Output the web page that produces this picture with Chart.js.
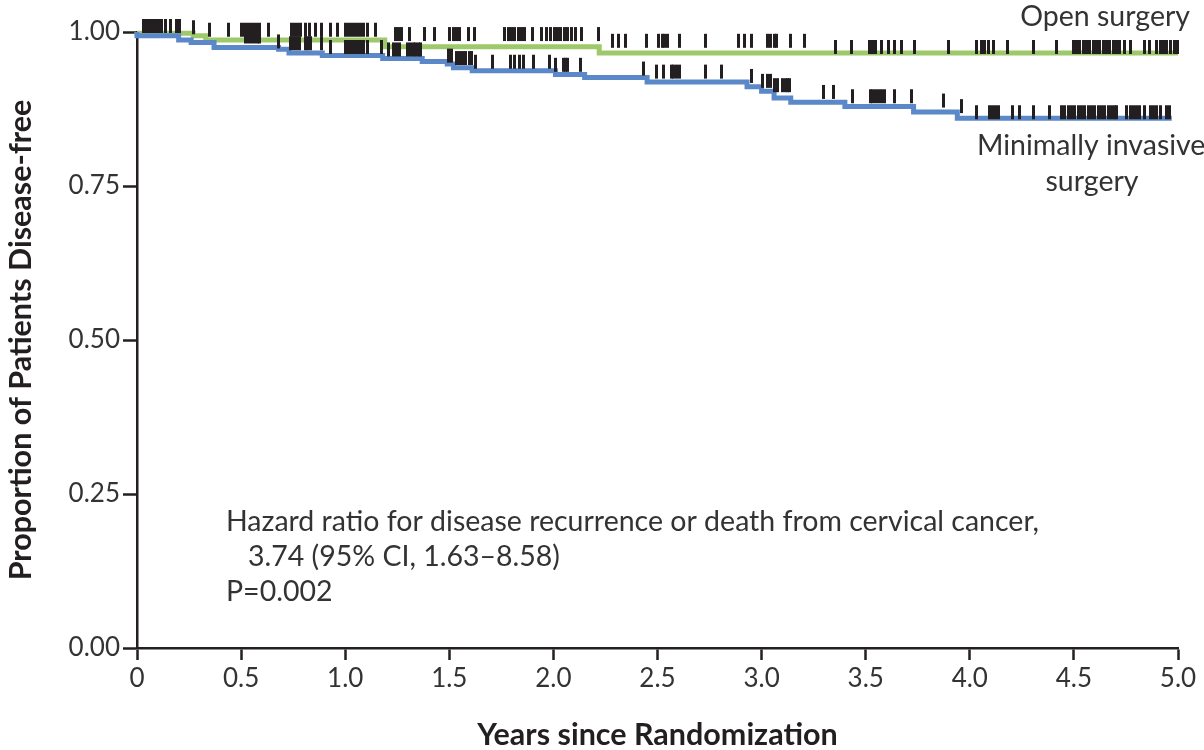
<!DOCTYPE html>
<html>
<head>
<meta charset="utf-8">
<script src="https://cdn.jsdelivr.net/npm/chart.js@4.4.1/dist/chart.umd.min.js"></script>
<style>
  html, body { margin: 0; padding: 0; background: #fff; }
  canvas { display: block; }
</style>
</head>
<body>
<canvas id="kmChart" width="1204" height="750"></canvas>
<script>
// Kaplan-Meier steps: time (years) and proportion disease-free from that time on
const openTimes = [0, 0.27, 0.33, 1.19, 2.22, 3.31, 5.0];
const openSurv  = [1.0, 0.998, 0.994, 0.987, 0.976, 0.966, 0.966];

const misTimes = [0, 0.20, 0.26, 0.37, 0.68, 0.73, 0.89, 1.18, 1.37, 1.49, 1.52, 1.61,
                  2.01, 2.15, 2.45, 2.93, 3.00, 3.06, 3.14, 3.40, 3.73, 3.94, 4.02, 4.97];
const misSurv  = [1.0, 0.994, 0.987, 0.983, 0.975, 0.972, 0.966, 0.962, 0.957, 0.952, 0.948, 0.942,
                  0.937, 0.931, 0.926, 0.919, 0.911, 0.904, 0.893, 0.886, 0.879, 0.870, 0.860, 0.860];

// censored observations (years)
const openCensor = [0.03, 0.045, 0.06, 0.075, 0.09, 0.105, 0.12, 0.135, 0.16, 0.19, 0.205, 0.27, 0.35, 0.44,
  0.50, 0.515, 0.53, 0.545, 0.56, 0.575, 0.59, 0.63, 0.74, 0.755, 0.77, 0.785, 0.81, 0.83, 0.855, 0.885,
  0.93, 0.965, 1.00, 1.015, 1.03, 1.045, 1.06, 1.075, 1.09, 1.105, 1.145, 1.24, 1.255, 1.27, 1.31, 1.383,
  1.428, 1.503, 1.519, 1.535, 1.551, 1.591, 1.623, 1.767, 1.783, 1.799, 1.815, 1.83, 1.846, 1.86, 1.90,
  1.943, 1.967, 1.988, 2.004, 2.02, 2.036, 2.052, 2.068, 2.088, 2.104, 2.136, 2.219, 2.283, 2.315, 2.347,
  2.448, 2.504, 2.523, 2.536, 2.549, 2.608, 2.731, 2.891, 2.92, 2.952, 3.029, 3.045, 3.06, 3.072, 3.141,
  3.205, 3.353, 3.433, 3.516, 3.532, 3.548, 3.577, 3.608, 3.64, 3.672, 3.736, 3.899, 4.032, 4.054, 4.073,
  4.092, 4.113, 4.183, 4.305, 4.415, 4.497, 4.513, 4.529, 4.545, 4.561, 4.577, 4.593, 4.609, 4.625, 4.641,
  4.657, 4.673, 4.689, 4.705, 4.72, 4.745, 4.774, 4.84, 4.862, 4.898, 4.914, 4.93, 4.946, 4.963, 4.985, 4.998];

const misCensor = [0.04, 0.07, 0.1, 0.52, 0.535, 0.55, 0.565, 0.58, 0.59, 0.68, 0.735, 0.75, 0.765, 0.78,
  0.807, 0.82, 0.833, 0.884, 0.927, 1.0, 1.015, 1.03, 1.045, 1.06, 1.075, 1.09, 1.105, 1.175, 1.207, 1.23,
  1.245, 1.26, 1.30, 1.313, 1.326, 1.339, 1.352, 1.364, 1.495, 1.511, 1.535, 1.55, 1.565, 1.58, 1.595,
  1.607, 1.626, 1.706, 1.795, 1.815, 1.835, 1.855, 1.903, 1.983, 2.01, 2.047, 2.058, 2.068, 2.132, 2.432,
  2.496, 2.528, 2.565, 2.578, 2.592, 2.608, 2.731, 2.805, 2.952, 3.004, 3.029, 3.045, 3.061, 3.077, 3.101,
  3.113, 3.125, 3.136, 3.297, 3.345, 3.436, 3.521, 3.533, 3.545, 3.561, 3.576, 3.592, 3.637, 3.72, 3.875,
  3.961, 4.033, 4.097, 4.11, 4.123, 4.137, 4.207, 4.239, 4.305, 4.382, 4.441, 4.457, 4.473, 4.489, 4.505,
  4.521, 4.537, 4.553, 4.569, 4.585, 4.601, 4.617, 4.633, 4.649, 4.665, 4.681, 4.697, 4.706, 4.754, 4.77,
  4.786, 4.802, 4.817, 4.841, 4.866, 4.881, 4.897, 4.914, 4.945, 4.96];

const xTicks = [0, 0.5, 1.0, 1.5, 2.0, 2.5, 3.0, 3.5, 4.0, 4.5, 5.0];
const xTickLabels = ['0', '0.5', '1.0', '1.5', '2.0', '2.5', '3.0', '3.5', '4.0', '4.5', '5.0'];
const yTicks = [0, 0.25, 0.5, 0.75, 1.0];
const yTickLabels = ['0.00', '0.25', '0.50', '0.75', '1.00'];

const INK = '#231f20';
const GREEN = '#9dc96b';
const BLUE = '#5a88c8';

// value of the step curve at time t
function survAt(times, surv, t) {
    let v = surv[0];
    for (let i = 0; i < times.length; i++) {
        if (times[i] <= t) v = surv[i];
    }
    return v;
}

function stepPoints(times, surv) {
    return times.map((t, i) => ({ x: t, y: surv[i] }));
}

function censorPoints(list, times, surv) {
    return list.map(t => ({ x: t, y: survAt(times, surv, t) }));
}

// little vertical bar used for censor marks, sitting on top of the line
function makeTick() {
    const c = document.createElement('canvas');
    c.width = 3;
    c.height = 28;
    const g = c.getContext('2d');
    g.fillStyle = INK;
    g.fillRect(0, 1, 3, 14);
    return c;
}
const tickMark = makeTick();

const notes = {
    id: 'notes',
    afterDraw(chart) {
        const ctx = chart.ctx;
        ctx.save();
        ctx.fillStyle = '#333';
        ctx.font = '28.5px Lato';
        ctx.textBaseline = 'middle';
        ctx.textAlign = 'right';
        ctx.fillText('Open surgery', 1190, 17);
        ctx.textAlign = 'left';
        ctx.fillText('Minimally invasive', 977, 146);
        ctx.textAlign = 'center';
        ctx.fillText('surgery', 1092, 182);
        ctx.textAlign = 'left';
        ctx.fillText('Hazard ratio for disease recurrence or death from cervical cancer,', 226, 522);
        ctx.fillText('3.74 (95% CI, 1.63\u20138.58)', 248, 557);
        ctx.fillText('P=0.002', 226, 592);
        ctx.restore();
    }
};

const ctx = document.getElementById('kmChart').getContext('2d');
new Chart(ctx, {
    type: 'scatter',
    data: {
        datasets: [
            {
                label: 'MIS censored',
                data: censorPoints(misCensor, misTimes, misSurv),
                pointStyle: tickMark,
                pointRadius: 3,
                showLine: false,
                clip: false,
                order: 0
            },
            {
                label: 'Open censored',
                data: censorPoints(openCensor, openTimes, openSurv),
                pointStyle: tickMark,
                pointRadius: 3,
                showLine: false,
                clip: false,
                order: 0
            },
            {
                label: 'Minimally invasive surgery',
                data: stepPoints(misTimes, misSurv),
                showLine: true,
                stepped: 'after',
                borderColor: BLUE,
                borderWidth: 5,
                pointRadius: 0,
                clip: false,
                order: 1
            },
            {
                label: 'Open surgery',
                data: stepPoints(openTimes, openSurv),
                showLine: true,
                stepped: 'after',
                borderColor: GREEN,
                borderWidth: 5,
                pointRadius: 0,
                clip: false,
                order: 2
            }
        ]
    },
    options: {
        responsive: false,
        animation: false,
        layout: { padding: { top: 32, right: 26, bottom: 0, left: 0 } },
        plugins: {
            legend: { display: false },
            tooltip: { enabled: false }
        },
        scales: {
            x: {
                type: 'linear',
                min: 0,
                max: 5,
                afterBuildTicks: s => { s.ticks = xTicks.map(v => ({ value: v })); },
                afterFit: s => { s.height = 102; },
                grid: { drawOnChartArea: false, tickLength: 12, tickColor: INK, tickWidth: 2.5 },
                border: { display: true, color: INK, width: 2.5 },
                ticks: {
                    color: '#333',
                    font: { family: 'Lato', size: 26 },
                    padding: 3,
                    maxRotation: 0,
                    callback: (v, i) => xTickLabels[i]
                },
                title: {
                    display: true,
                    text: 'Years since Randomization',
                    color: INK,
                    font: { family: 'Lato', size: 30.5, weight: 'bold', lineHeight: 1.0 },
                    padding: { top: 0, bottom: 0 }
                }
            },
            y: {
                min: 0,
                max: 1,
                afterBuildTicks: s => { s.ticks = yTicks.map(v => ({ value: v })); },
                afterFit: s => { s.width = 137; },
                grid: { drawOnChartArea: false, tickLength: 14, tickColor: INK, tickWidth: 2.5 },
                border: { display: true, color: INK, width: 2.5 },
                ticks: {
                    color: '#333',
                    font: { family: 'Lato', size: 26 },
                    padding: 3,
                    callback: (v, i) => yTickLabels[i]
                },
                title: {
                    display: true,
                    text: 'Proportion of Patients Disease-free',
                    color: INK,
                    font: { family: 'Lato', size: 30.5, weight: 'bold', lineHeight: 1.2 },
                    padding: { top: 3, bottom: 0 }
                }
            }
        }
    },
    plugins: [notes]
});
</script>
</body>
</html>
